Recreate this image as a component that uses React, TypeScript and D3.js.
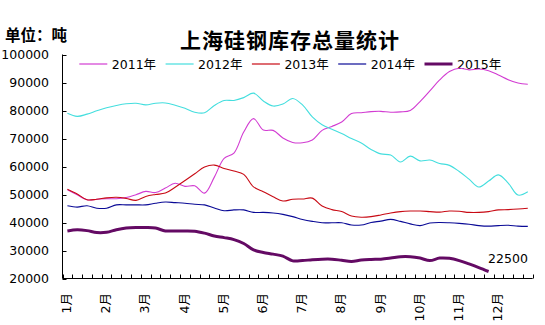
import React from "react";
import * as d3 from "d3";

const months = ["1月", "2月", "3月", "4月", "5月", "6月", "7月", "8月", "9月", "10月", "11月", "12月"];
const weeksPerMonth = 4;
const yTicks = [20000, 30000, 40000, 50000, 60000, 70000, 80000, 90000, 100000];

const s2011 = [51700, 49900, 48100, 48300, 48500, 48500, 48900, 49900, 51100, 50700, 52300, 54000, 52900, 53100, 50500, 56200, 62900, 64800, 72300, 77100, 73000, 72900, 70200, 68600, 68500, 69500, 72900, 74300, 75900, 78900, 79200, 79600, 79700, 79400, 79500, 80000, 83200, 87000, 90900, 93900, 95100, 94500, 94800, 94200, 92700, 91000, 89800, 89400];
const s2012 = [79000, 77900, 78700, 79900, 81000, 81800, 82400, 82600, 82000, 82600, 82700, 81900, 80800, 79400, 79200, 81800, 83600, 83600, 84600, 86200, 83400, 81600, 82300, 84300, 82000, 77700, 74900, 73300, 71800, 70000, 68400, 66100, 64500, 64100, 61600, 63700, 62000, 62300, 61100, 60400, 58200, 55500, 52700, 54800, 57000, 54100, 49800, 51000];
const s2013 = [51900, 50200, 48100, 48300, 48800, 49000, 48600, 47900, 49300, 50000, 50500, 52600, 55000, 57400, 59800, 60500, 59300, 58400, 57200, 52700, 51000, 49200, 47700, 48300, 48400, 48700, 45900, 44600, 43900, 42300, 41900, 42100, 42700, 43400, 43900, 44100, 44100, 43900, 43700, 44100, 44000, 43600, 43600, 43900, 44500, 44600, 44800, 45100];
const s2014 = [46000, 45500, 46000, 45100, 45100, 46300, 46300, 46300, 46300, 46900, 47300, 47100, 46900, 46500, 46300, 45200, 44200, 44500, 44500, 43600, 43600, 43400, 42900, 42100, 41100, 40400, 39900, 39900, 39900, 39100, 39100, 40000, 40500, 41100, 40400, 39500, 38900, 39800, 40000, 39900, 39700, 39400, 38900, 38700, 38900, 39000, 38700, 38600];
const s2015 = [37000, 37400, 37100, 36400, 36500, 37400, 38000, 38200, 38200, 38000, 37000, 37000, 37000, 36900, 36200, 35200, 34600, 33900, 32500, 30200, 29300, 28700, 28000, 26300, 26400, 26700, 26900, 26900, 26500, 26100, 26600, 26800, 26900, 27300, 27800, 27800, 27300, 26400, 27300, 27200, 26400, 25200, 23900, 22500];

const seriesNames = ["2011年", "2012年", "2013年", "2014年", "2015年"];
const seriesData = [s2011, s2012, s2013, s2014, s2015];
const seriesColors = ["#d23cd2", "#44dede", "#c80a14", "#0a0a96", "#640a64"];
const seriesWidths = [1.1, 1.1, 1.1, 1.1, 3];

const title = "上海硅钢库存总量统计";
const unitLabel = "单位：吨";
const endLabel = "22500";

const W = 545;
const H = 325;
const X0 = 62.5;
const X1 = 532.7;
const YT = 54.5;
const YB = 278.5;
const FONT = "'DejaVu Sans', 'Noto Sans CJK SC', sans-serif";
const CJK = "'Noto Sans CJK SC', sans-serif";

export default function App() {
  const n = months.length * weeksPerMonth;
  const idx = d3.range(n);
  const x = d3.scaleBand<number>().domain(idx).range([X0, X1]).paddingInner(0).paddingOuter(0);
  const y = d3.scaleLinear().domain([20000, 100000]).range([YB, YT]);
  const cx = (i: number) => (x(i) as number) + x.bandwidth() / 2;
  const line = d3
    .line<number>()
    .x((_, i) => cx(i))
    .y((d) => y(d))
    .curve(d3.curveCatmullRom.alpha(0.5));

  const bw = x.bandwidth();
  const xTickPos = d3.range(n + 1).map((k) => X0 + k * bw);

  const last2015 = s2015.length - 1;

  return (
    <svg
      width={W}
      height={H}
      style={{ position: "absolute", left: 0, top: 0, background: "#fff" }}
      fontFamily={FONT}
    >
      <rect x={0} y={0} width={W} height={H} fill="#fff" />
      <text x={290} y={39} textAnchor="middle" dominantBaseline="central" fontFamily={CJK} fontWeight="bold" fontSize={21} letterSpacing={1} fill="#000">
        {title}
      </text>
      <text x={5} y={34} dominantBaseline="central" fontFamily={CJK} fontWeight="bold" fontSize={15.5} fill="#000">
        {unitLabel}
      </text>

      {/* legend */}
      {seriesNames.map((name, k) => {
        const lx = 79.3 + k * 86.3;
        return (
          <g key={name}>
            <line x1={lx} x2={lx + 28} y1={64} y2={64} stroke={seriesColors[k]} strokeWidth={seriesWidths[k] > 2 ? 3 : 1.2} />
            <text x={lx + 32.5} y={64} dominantBaseline="central" fontSize={12.5} fill="#000">
              {name}
            </text>
          </g>
        );
      })}

      {/* series */}
      {seriesData.map((data, k) => (
        <path key={k} d={line(data) || ""} fill="none" stroke={seriesColors[k]} strokeWidth={seriesWidths[k]} strokeLinejoin="round" />
      ))}

      <text x={cx(last2015) - 0.5} y={258} dominantBaseline="central" fontSize={12.5} fill="#000">
        {endLabel}
      </text>

      {/* axes */}
      <line x1={X0} x2={X0} y1={YT} y2={YB} stroke="#000" strokeWidth={1} />
      <line x1={X0} x2={X1} y1={YB} y2={YB} stroke="#000" strokeWidth={1} />
      {yTicks.map((t) => (
        <g key={t}>
          <line x1={X0} x2={X0 + 4} y1={Math.round(y(t)) + 0.5} y2={Math.round(y(t)) + 0.5} stroke="#000" />
          <text x={49} y={y(t)} textAnchor="end" dominantBaseline="central" fontSize={12.5} fill="#000">
            {t}
          </text>
        </g>
      ))}
      {xTickPos.map((p, k) => (
        <line key={k} x1={Math.round(p) + 0.5} x2={Math.round(p) + 0.5} y1={YB} y2={YB - 4} stroke="#000" />
      ))}
      {months.map((m, k) => {
        const px = cx(k * weeksPerMonth) - 0.8;
        return (
          <text key={m} transform={`translate(${px},293) rotate(-90)`} textAnchor="end" dominantBaseline="central" fontSize={12.5} fill="#000">
            {m}
          </text>
        );
      })}
    </svg>
  );
}
